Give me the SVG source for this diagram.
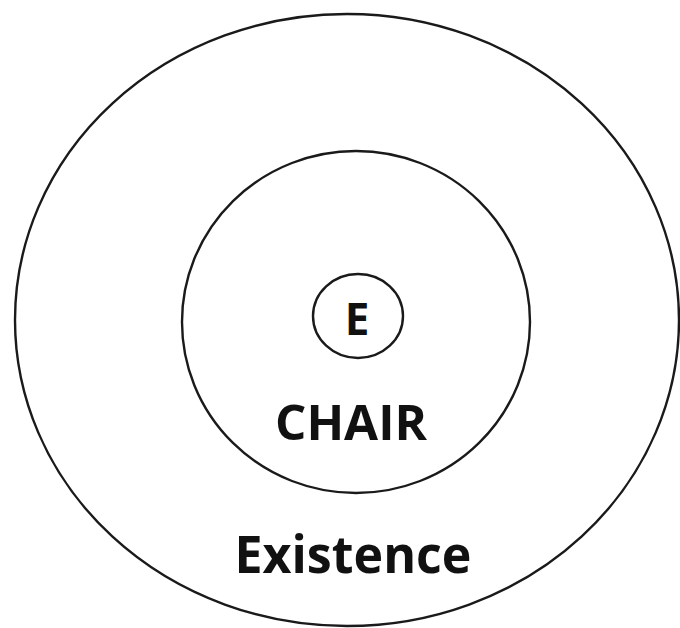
<svg xmlns="http://www.w3.org/2000/svg" width="680" height="628" viewBox="0 0 680 628">
<style>
.ring{fill:none;stroke:#1a1a1a;stroke-width:2.4}
.lbl{font-family:"Open Sans","Liberation Sans",sans-serif;font-weight:bold;fill:#111;text-anchor:middle}
</style>
<rect width="680" height="628" fill="#fff"/>
<g id="existence">
<ellipse class="ring" cx="347" cy="320" rx="332" ry="306"/>
<text class="lbl" x="353" y="573" font-size="52" textLength="237" lengthAdjust="spacingAndGlyphs">Existence</text>
</g>
<g id="chair">
<ellipse class="ring" cx="356" cy="322" rx="174" ry="171"/>
<text class="lbl" x="351" y="440" font-size="48" textLength="152" lengthAdjust="spacingAndGlyphs">CHAIR</text>
</g>
<g id="e">
<ellipse class="ring" cx="358" cy="316" rx="45" ry="42"/>
<text class="lbl" x="357" y="335" font-size="44">E</text>
</g>
<g id="connectors"/>
</svg>
